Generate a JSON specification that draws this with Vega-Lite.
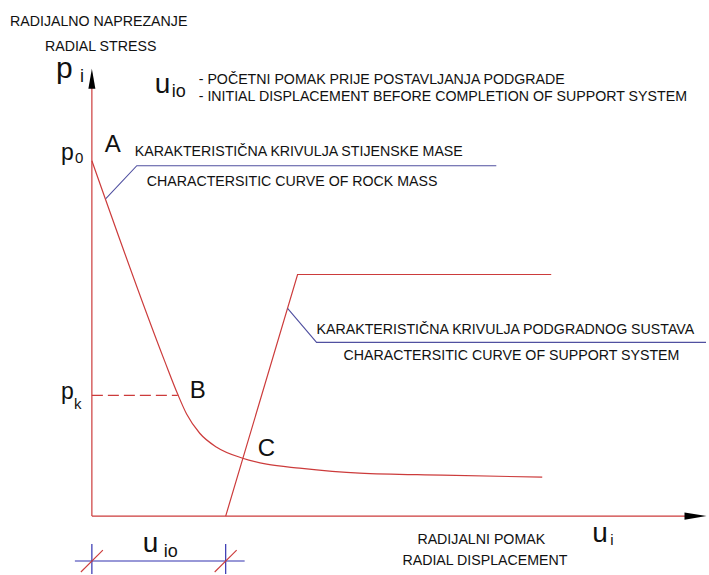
{
  "$schema": "https://vega.github.io/schema/vega-lite/v6.json",
  "width": 709,
  "height": 575,
  "padding": 0,
  "autosize": {"type": "fit", "contains": "padding"},
  "background": "white",
  "config": {"view": {"stroke": null}, "text": {"font": "Liberation Sans", "color": "#111111"}},
  "datasets": {
    "curves": [
      {"series": "rock", "i": 0, "u": 0, "p": 35.6},
      {"series": "rock", "i": 1, "u": 7.3, "p": 15.5},
      {"series": "rock", "i": 2, "u": 8.6, "p": 12.2},
      {"series": "rock", "i": 3, "u": 9.5, "p": 10.2},
      {"series": "rock", "i": 4, "u": 10.8, "p": 8.3},
      {"series": "rock", "i": 5, "u": 12.5, "p": 6.9},
      {"series": "rock", "i": 6, "u": 15.1, "p": 5.8},
      {"series": "rock", "i": 7, "u": 17.5, "p": 5.2},
      {"series": "rock", "i": 8, "u": 20.8, "p": 4.8},
      {"series": "rock", "i": 9, "u": 26.8, "p": 4.3},
      {"series": "rock", "i": 10, "u": 35.1, "p": 4.1},
      {"series": "rock", "i": 11, "u": 45.1, "p": 3.9},
      {"series": "support", "i": 0, "u": 13.4, "p": 0},
      {"series": "support", "i": 1, "u": 20.6, "p": 24.2},
      {"series": "support", "i": 2, "u": 46.0, "p": 24.2}
    ],
    "leaders": [
      {"series": "rock", "i": 0, "u": 1.4, "p": 31.8},
      {"series": "rock", "i": 1, "u": 4.5, "p": 35.1},
      {"series": "rock", "i": 2, "u": 40.5, "p": 35.1},
      {"series": "support", "i": 0, "u": 19.6, "p": 20.8},
      {"series": "support", "i": 1, "u": 22.5, "p": 17.4},
      {"series": "support", "i": 2, "u": 61.5, "p": 17.4}
    ],
    "rules": [
      {"kind": "axis", "u": 0, "p": 0, "u2": 0, "p2": 42.9},
      {"kind": "axis", "u": 0, "p": 0, "u2": 59.5, "p2": 0},
      {"kind": "dash", "u": 0, "p": 12.1, "u2": 8.6, "p2": 12.1},
      {"kind": "dim", "u": -1.7, "p": -4.5, "u2": 15.3, "p2": -4.5},
      {"kind": "dim", "u": 0, "p": -2.8, "u2": 0, "p2": -5.8},
      {"kind": "dim", "u": 13.4, "p": -2.8, "u2": 13.4, "p2": -5.8},
      {"kind": "slash", "u": -1.1, "p": -5.6, "u2": 1.1, "p2": -3.4},
      {"kind": "slash", "u": 12.3, "p": -5.6, "u2": 14.5, "p2": -3.4}
    ],
    "arrows": [
      {"dir": "up", "u": 0, "p": 43.8},
      {"dir": "right", "u": 60.45, "p": 0}
    ],
    "texts": [
      {"role": "caption", "label": "RADIJALNO NAPREZANJE", "u": -8.2, "p": 49.5},
      {"role": "caption", "label": "RADIAL STRESS", "u": -4.7, "p": 47.0},
      {"role": "caption", "label": "- POČETNI POMAK PRIJE POSTAVLJANJA PODGRADE", "u": 10.7, "p": 43.7},
      {"role": "caption", "label": "- INITIAL DISPLACEMENT BEFORE COMPLETION OF SUPPORT SYSTEM", "u": 10.7, "p": 42.0},
      {"role": "caption", "label": "KARAKTERISTIČNA KRIVULJA STIJENSKE MASE", "u": 4.3, "p": 36.5},
      {"role": "caption", "label": "CHARACTERSITIC CURVE OF ROCK MASS", "u": 5.5, "p": 33.5},
      {"role": "caption", "label": "KARAKTERISTIČNA KRIVULJA PODGRADNOG SUSTAVA", "u": 22.5, "p": 18.6},
      {"role": "caption", "label": "CHARACTERSITIC CURVE OF SUPPORT SYSTEM", "u": 25.2, "p": 16.0},
      {"role": "caption", "label": "RADIJALNI POMAK", "u": 32.6, "p": -2.4},
      {"role": "caption", "label": "RADIAL DISPLACEMENT", "u": 31.1, "p": -4.5},
      {"role": "point", "label": "A", "u": 1.3, "p": 36.5},
      {"role": "point", "label": "B", "u": 9.8, "p": 11.8},
      {"role": "point", "label": "C", "u": 16.6, "p": 6.0},
      {"role": "varXL", "label": "p", "u": -3.6, "p": 43.9},
      {"role": "varL", "label": "u", "u": 6.3, "p": 42.4},
      {"role": "varL", "label": "u", "u": 5.1, "p": -3.6},
      {"role": "varL", "label": "u", "u": 50.1, "p": -2.6},
      {"role": "varM", "label": "p", "u": -3.1, "p": 35.7},
      {"role": "varM", "label": "p", "u": -3.1, "p": 11.7},
      {"role": "subL", "label": "i", "u": -1.2, "p": 43.5},
      {"role": "subL", "label": "io", "u": 8.0, "p": 42.0},
      {"role": "subL", "label": "io", "u": 7.2, "p": -4.1},
      {"role": "subS", "label": "0", "u": -1.7, "p": 35.4},
      {"role": "subS", "label": "k", "u": -1.8, "p": 10.7},
      {"role": "subS", "label": "i", "u": 51.9, "p": -2.9}
    ]
  },
  "encoding": {
    "x": {"field": "u", "type": "quantitative", "axis": null, "scale": {"domain": [-9.2, 61.7], "nice": false, "zero": false}},
    "y": {"field": "p", "type": "quantitative", "axis": null, "scale": {"domain": [-5.8, 51.7], "nice": false, "zero": false}}
  },
  "layer": [
    {
      "data": {"name": "rules"},
      "transform": [{"filter": "datum.kind === 'axis'"}],
      "mark": {"type": "rule", "color": "#cc3b3b", "strokeWidth": 1.2},
      "encoding": {"x2": {"field": "u2"}, "y2": {"field": "p2"}}
    },
    {
      "data": {"name": "rules"},
      "transform": [{"filter": "datum.kind === 'dash'"}],
      "mark": {"type": "rule", "color": "#cc3b3b", "strokeWidth": 1.2, "strokeDash": [11, 5]},
      "encoding": {"x2": {"field": "u2"}, "y2": {"field": "p2"}}
    },
    {
      "data": {"name": "rules"},
      "transform": [{"filter": "datum.kind === 'dim'"}],
      "mark": {"type": "rule", "color": "#3232b0", "strokeWidth": 1.2},
      "encoding": {"x2": {"field": "u2"}, "y2": {"field": "p2"}}
    },
    {
      "data": {"name": "rules"},
      "transform": [{"filter": "datum.kind === 'slash'"}],
      "mark": {"type": "rule", "color": "#cc3b3b", "strokeWidth": 1.1},
      "encoding": {"x2": {"field": "u2"}, "y2": {"field": "p2"}}
    },
    {
      "data": {"name": "curves"},
      "transform": [{"filter": "datum.series === 'rock'"}],
      "mark": {"type": "line", "color": "#cc3b3b", "strokeWidth": 1.2, "interpolate": "monotone"},
      "encoding": {"order": {"field": "i"}}
    },
    {
      "data": {"name": "curves"},
      "transform": [{"filter": "datum.series === 'support'"}],
      "mark": {"type": "line", "color": "#cc3b3b", "strokeWidth": 1.2, "interpolate": "linear"},
      "encoding": {"order": {"field": "i"}}
    },
    {
      "data": {"name": "leaders"},
      "mark": {"type": "line", "color": "#5050a0", "strokeWidth": 1.1},
      "encoding": {"detail": {"field": "series"}, "order": {"field": "i"}}
    },
    {
      "data": {"name": "arrows"},
      "transform": [{"filter": "datum.dir === 'up'"}],
      "mark": {"type": "point", "shape": "M0,-1L0.35,1L-0.35,1Z", "size": 400, "filled": true, "color": "#000000", "opacity": 1}
    },
    {
      "data": {"name": "arrows"},
      "transform": [{"filter": "datum.dir === 'right'"}],
      "mark": {"type": "point", "shape": "M1,0L-1,-0.33L-1,0.33Z", "size": 484, "filled": true, "color": "#000000", "opacity": 1}
    },
    {
      "data": {"name": "texts"},
      "transform": [{"filter": "datum.role === 'caption'"}],
      "mark": {"type": "text", "fontSize": 14.2, "align": "left", "baseline": "middle"},
      "encoding": {"text": {"field": "label"}}
    },
    {
      "data": {"name": "texts"},
      "transform": [{"filter": "datum.role === 'point'"}],
      "mark": {"type": "text", "fontSize": 24, "align": "left", "baseline": "alphabetic"},
      "encoding": {"text": {"field": "label"}}
    },
    {
      "data": {"name": "texts"},
      "transform": [{"filter": "datum.role === 'varXL'"}],
      "mark": {"type": "text", "fontSize": 30, "align": "left", "baseline": "alphabetic"},
      "encoding": {"text": {"field": "label"}}
    },
    {
      "data": {"name": "texts"},
      "transform": [{"filter": "datum.role === 'varL'"}],
      "mark": {"type": "text", "fontSize": 28, "align": "left", "baseline": "alphabetic"},
      "encoding": {"text": {"field": "label"}}
    },
    {
      "data": {"name": "texts"},
      "transform": [{"filter": "datum.role === 'varM'"}],
      "mark": {"type": "text", "fontSize": 23, "align": "left", "baseline": "alphabetic"},
      "encoding": {"text": {"field": "label"}}
    },
    {
      "data": {"name": "texts"},
      "transform": [{"filter": "datum.role === 'subL'"}],
      "mark": {"type": "text", "fontSize": 18, "align": "left", "baseline": "alphabetic"},
      "encoding": {"text": {"field": "label"}}
    },
    {
      "data": {"name": "texts"},
      "transform": [{"filter": "datum.role === 'subS'"}],
      "mark": {"type": "text", "fontSize": 15, "align": "left", "baseline": "alphabetic"},
      "encoding": {"text": {"field": "label"}}
    }
  ]
}
